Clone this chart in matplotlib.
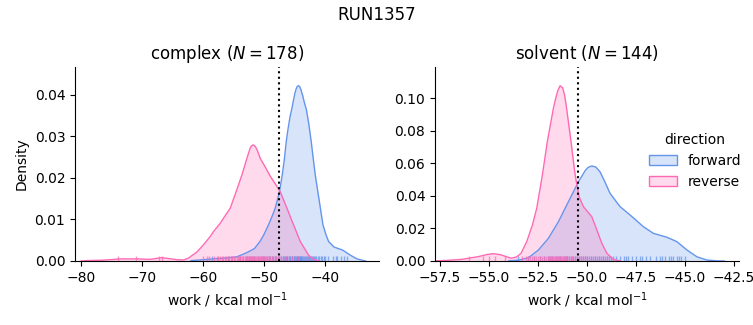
import matplotlib
matplotlib.use("Agg")
import matplotlib.pyplot as plt
from matplotlib.patches import Patch
import numpy as np

# ---- data ----
suptitle = "RUN1357"
panels = ["complex", "solvent"]
panel_n = [178, 144]
directions = ["forward", "reverse"]
colors = ["cornflowerblue", "hotpink"]

# complex phase KDE curves
complex_fwd_x = [-62, -60, -58.4, -56.5, -54.5, -53.5, -52.6, -51.6, -50.7, -50.0, -49.3, -48.7,
                 -48.2, -47.5, -47.05, -46.7, -46.4, -46.1, -45.8, -45.46, -45.2, -45.0, -44.8,
                 -44.6, -44.4, -44.2, -44.0, -43.7, -43.4, -43.1, -42.7, -42.3, -42.0, -41.64,
                 -41.2, -40.8, -40.38, -39.9, -39.46, -38.6, -37.9, -37.26, -36.6, -35.9, -34.8,
                 -33.4]
complex_fwd_y = [0.0001, 0.0003, 0.0005, 0.0007, 0.0010, 0.0016, 0.0022, 0.0030, 0.0047, 0.0065,
                 0.0087, 0.0108, 0.0127, 0.0167, 0.0207, 0.0245, 0.0287, 0.0318, 0.0345, 0.0368,
                 0.0388, 0.0402, 0.0413, 0.0420, 0.0422, 0.0420, 0.0413, 0.0398, 0.0380, 0.0365,
                 0.0330, 0.0287, 0.0250, 0.0207, 0.0165, 0.0127, 0.0087, 0.0064, 0.0047, 0.0034,
                 0.0030, 0.0027, 0.0021, 0.0014, 0.0005, 0.0]
complex_rev_x = [-80, -79, -76.3, -73.6, -70.9, -68.7, -66.8, -65.2, -64.2, -63.2, -62.4, -61.85,
                 -61.0, -59.95, -58.85, -58.3, -57.2, -56.67, -55.57, -54.6, -53.66, -52.84, -52.3,
                 -52.1, -51.85, -51.6, -51.4, -51.1, -50.66, -49.9, -49.13, -48.3, -47.38, -46.28,
                 -45.2, -44.1, -42.74, -41.9, -41.0]
complex_rev_y = [0.0, 0.0001, 0.0002, 0.0005, 0.0005, 0.0004, 0.0008, 0.0005, 0.0003, 0.00025,
                 0.0007, 0.0013, 0.0022, 0.0039, 0.0059, 0.0071, 0.0091, 0.0103, 0.0127, 0.0167,
                 0.0207, 0.0247, 0.0272, 0.0277, 0.02795, 0.0278, 0.0274, 0.0265, 0.0247, 0.0228,
                 0.0207, 0.0188, 0.0167, 0.0127, 0.0087, 0.0047, 0.0014, 0.0004, 0.0]

# solvent phase KDE curves
solvent_fwd_x = [-54.0, -53.5, -52.99, -52.48, -51.97, -51.46, -50.95, -50.44, -50.1, -49.95,
                 -49.76, -49.55, -49.34, -49.1, -48.83, -48.32, -47.81, -47.13, -46.62, -45.93,
                 -45.42, -44.91, -44.4, -43.89, -43.4, -43.0]
solvent_fwd_y = [0.0001, 0.0005, 0.0020, 0.0068, 0.0140, 0.0242, 0.0365, 0.0487, 0.0555, 0.0575,
                 0.0584, 0.0577, 0.0548, 0.0488, 0.0416, 0.0334, 0.0283, 0.0211, 0.0170, 0.0146,
                 0.0119, 0.0068, 0.0026, 0.0006, 0.0001, 0.0]
solvent_rev_x = [-57.8, -57.24, -56.4, -55.54, -55.1, -54.78, -54.4, -53.88, -53.6, -53.37, -53.08,
                 -52.79, -52.57, -52.28, -52.03, -51.72, -51.6, -51.5, -51.38, -51.25, -51.15,
                 -51.07, -50.82, -50.61, -50.41, -50.19, -49.76, -49.5, -49.25, -48.99, -48.66,
                 -48.3]
solvent_rev_y = [0.0001, 0.0003, 0.0010, 0.0027, 0.0040, 0.0045, 0.0038, 0.0017, 0.0025, 0.0047,
                 0.0119, 0.0221, 0.0324, 0.0529, 0.0733, 0.0938, 0.1000, 0.1045, 0.1077, 0.1065,
                 0.1020, 0.0960, 0.0733, 0.0529, 0.0395, 0.0334, 0.0272, 0.0190, 0.0109, 0.0047,
                 0.0010, 0.0]

# rug sample positions (approximate)
complex_fwd_rug = [-58.5, -56, -54, -53, -52.5, -52.2, -51.6, -51, -50.5, -50.2, -50, -49.5, -49.2,
                   -49, -48.7, -48.5, -48.2, -48, -47.7, -47.5, -47.2, -47, -46.8, -46.6, -46.5,
                   -46.3, -46.2, -46, -45.8, -45.7, -45.5, -45.4, -45.2, -45.1, -45, -44.8, -44.7,
                   -44.6, -44.5, -44.4, -44.3, -44.2, -44.1, -44, -43.9, -43.8, -43.6, -43.5,
                   -43.3, -43.2, -43, -42.8, -42.7, -42.5, -42.3, -42.2, -42, -41.8, -41.7, -41.5,
                   -41.2, -41, -40.7, -40.5, -40.2, -40, -39.5, -38.8, -38.3, -38, -37.5, -37,
                   -36.5]
complex_rev_rug = [-74, -71, -67.2, -66.8, -60, -59.3, -59, -58.2, -57.8, -57.5, -57.2, -57, -56.7,
                   -56.5, -56.2, -56, -55.8, -55.5, -55.3, -55.2, -55, -54.8, -54.5, -54.3, -54.2,
                   -54, -53.9, -53.7, -53.5, -53.4, -53.2, -53, -52.9, -52.8, -52.6, -52.5, -52.3,
                   -52.2, -52, -51.9, -51.8, -51.6, -51.5, -51.3, -51.2, -51, -50.9, -50.7, -50.5,
                   -50.4, -50.2, -50, -49.8, -49.7, -49.5, -49.3, -49.2, -49, -48.7, -48.5, -48.2,
                   -48, -47.7, -47.5, -47.2, -47, -46.5, -46, -45.5, -45, -44.5, -43]
solvent_fwd_rug = [-53.5, -53, -52.7, -52.4, -52.2, -52, -51.9, -51.8, -51.6, -51.5, -51.4, -51.2,
                   -51.1, -51, -50.9, -50.8, -50.7, -50.6, -50.5, -50.4, -50.3, -50.2, -50.1, -50,
                   -49.9, -49.8, -49.7, -49.6, -49.5, -49.4, -49.3, -49.2, -49.1, -49, -48.9,
                   -48.8, -48.7, -48.5, -48.3, -48.1, -48, -47.9, -47.7, -47.5, -47.3, -47.2, -47,
                   -46.8, -46.5, -46.3, -46.2, -46, -45.8, -45.7, -45.6, -45.4, -45.3, -45.2,
                   -45.0]
solvent_rev_rug = [-56, -55.3, -55, -54.7, -54.2, -53.3, -53.1, -53, -52.9, -52.8, -52.7, -52.6,
                   -52.5, -52.4, -52.3, -52.2, -52.1, -52, -51.95, -51.9, -51.85, -51.8, -51.75,
                   -51.7, -51.65, -51.6, -51.55, -51.5, -51.45, -51.4, -51.35, -51.3, -51.25,
                   -51.2, -51.15, -51.1, -51.05, -51, -50.9, -50.8, -50.75, -50.7, -50.6, -50.5,
                   -50.4, -50.3, -50.2, -50.1, -50, -49.8, -49.6, -49.4, -49.2, -49]

# free-energy estimate (dotted line)
vline_x = [-47.54, -50.47]

# axis settings
xlims = [(-81.0, -31.2), (-57.76, -42.25)]
ylims = [(0, 0.0467), (0, 0.1192)]
xticks = [np.arange(-80, -39, 10), np.arange(-57.5, -42.4, 2.5)]
yticks = [np.arange(0, 0.041, 0.01), np.arange(0, 0.101, 0.02)]

curves = [
    [(complex_fwd_x, complex_fwd_y, complex_fwd_rug), (complex_rev_x, complex_rev_y, complex_rev_rug)],
    [(solvent_fwd_x, solvent_fwd_y, solvent_fwd_rug), (solvent_rev_x, solvent_rev_y, solvent_rev_rug)],
]

fig = plt.figure(figsize=(7.53, 3.25), dpi=100)
ax_pos = [[75 / 753, 64 / 325, 304 / 753, 194 / 325],
          [435 / 753, 64 / 325, 304 / 753, 194 / 325]]

for i, name in enumerate(panels):
    ax = fig.add_axes(ax_pos[i])
    for j, (xs, ys, rug) in enumerate(curves[i]):
        c = colors[j]
        ax.fill_between(xs, ys, 0, color=c, alpha=0.25, lw=0)
        ax.plot(xs, ys, color=c, lw=1, solid_joinstyle="round")
        ax.vlines(rug, 0, 0.025, transform=ax.get_xaxis_transform(), colors=c, alpha=0.7, lw=1)
    ax.axvline(vline_x[i], color="black", ls=":", lw=1.5)
    ax.set_xlim(*xlims[i])
    ax.set_ylim(*ylims[i])
    ax.set_xticks(xticks[i])
    ax.set_yticks(yticks[i])
    ax.yaxis.set_major_formatter(matplotlib.ticker.FormatStrFormatter("%.2f"))
    ax.spines["top"].set_visible(False)
    ax.spines["right"].set_visible(False)
    ax.set_title(f"{name} ($N = {panel_n[i]}$)", fontsize=12)
    ax.set_xlabel("work / kcal mol$^{-1}$")
    if i == 0:
        ax.set_ylabel("Density")

handles = [Patch(facecolor=matplotlib.colors.to_rgba(c, 0.25), edgecolor=c, lw=1) for c in colors]
fig.legend(handles, directions, title="direction", frameon=False, loc="center",
           bbox_to_anchor=(0.923, 0.505), fontsize=10, title_fontsize=10)
fig.suptitle(suptitle, fontsize=12)

fig.savefig("out.png", dpi=100)
